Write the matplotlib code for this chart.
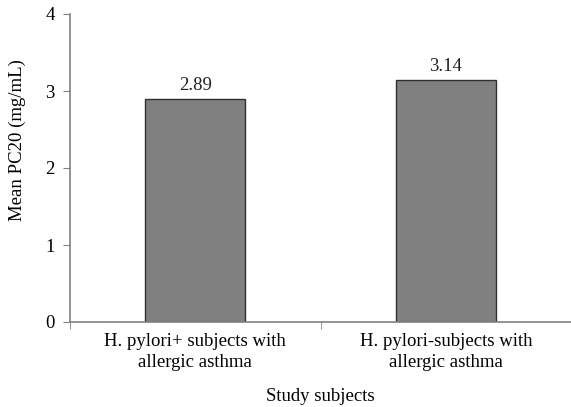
import numpy as np
import matplotlib.pyplot as plt

plt.rcParams['font.family'] = ['Liberation Serif', 'DejaVu Serif']

categories = ["H. pylori+ subjects with\nallergic asthma", "H. pylori-subjects with\nallergic asthma"]
values = [2.89, 3.14]
value_labels = ["2.89", "3.14"]

W, H = 571, 407
fs = 13.5
fig = plt.figure(figsize=(W / 100, H / 100), dpi=100)
ax = fig.add_axes([70 / W, (H - 322) / H, (W - 70) / W, (322 - 14) / H])

x = np.arange(len(categories))
ax.bar(x, values, width=0.4, color='#808080', edgecolor='#303030', linewidth=1)
for xi, v, lab in zip(x, values, value_labels):
    ax.text(xi, v + 0.07, lab, ha='center', va='bottom', fontsize=fs, color='#222222')

ax.set_xlim(-0.5, -0.5 + (W - 70) / 252)
ax.set_ylim(0, 4)
ax.set_yticks([0, 1, 2, 3, 4])
ax.set_xticks(x)
ax.set_xticklabels(categories, fontsize=fs, linespacing=1.3)
ax.set_xticks([-0.5, 0.5, 1.5], minor=True)
ax.tick_params(axis='x', which='major', length=0, pad=8)
ax.tick_params(axis='x', which='minor', length=5, direction='out', color='#808080')
ax.tick_params(axis='y', length=5, direction='out', color='#808080', labelsize=fs, pad=6)

for s in ['top', 'right']:
    ax.spines[s].set_visible(False)
for s in ['left', 'bottom']:
    ax.spines[s].set_color('#808080')
    ax.spines[s].set_linewidth(1.2)

ax.set_ylabel("Mean PC20 (mg/mL)", fontsize=fs)
ax.yaxis.set_label_coords(-44 / (W - 70), 0.59)
ax.set_xlabel("Study subjects", fontsize=fs, labelpad=12)

fig.savefig("out.png", dpi=100)
